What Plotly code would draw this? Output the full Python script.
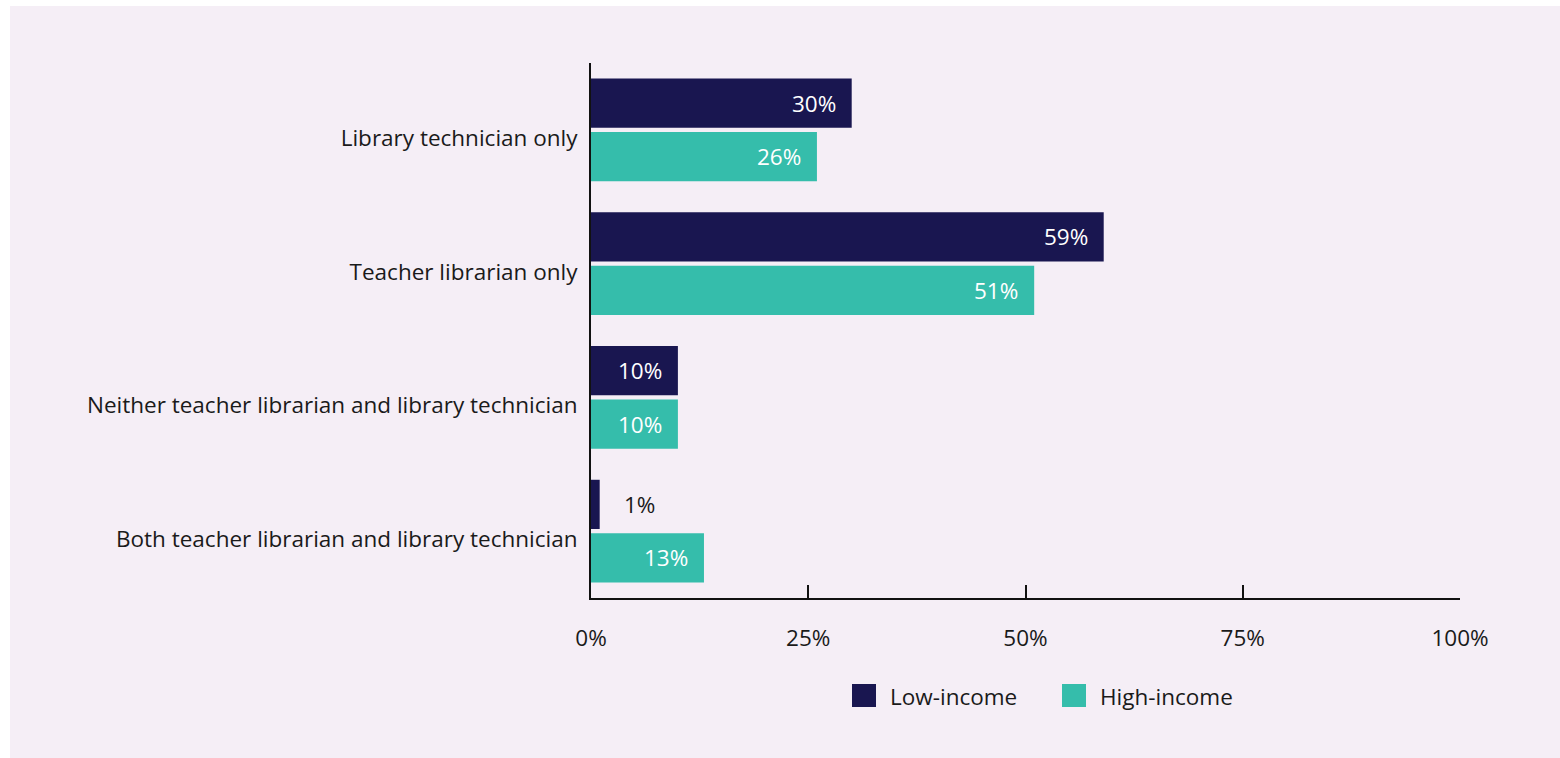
import plotly.graph_objects as go

categories = ["Library technician only", "Teacher librarian only",
              "Neither teacher librarian and library technician",
              "Both teacher librarian and library technician"]
series_names = ["Low-income", "High-income"]
low_income = [30, 59, 10, 1]
high_income = [26, 51, 10, 13]
tick_vals = [0, 25, 50, 75, 100]
tick_text = ["0%", "25%", "50%", "75%", "100%"]

colors = ["#191650", "#35BDAB"]
FONT = "Open Sans"
FS = 22.5
W, H = 1560, 758
L, R, T, B = 591, 100, 63, 160
pw, ph = W - L - R, H - T - B

fig = go.Figure()
all_vals = [low_income, high_income]
for name, vals, col in zip(series_names, all_vals, colors):
    fig.add_trace(go.Bar(y=categories, x=vals, name=name, orientation="h",
                         marker=dict(color=col, line=dict(width=0)),
                         showlegend=False, hoverinfo="x+y"))

bargap = 0.2
slot = (1 - bargap) / 2
annotations = []
for ti, vals in enumerate(all_vals):
    off = (ti - 0.5) * slot
    for ci, v in enumerate(vals):
        inside = v >= 5
        annotations.append(dict(
            x=v, y=ci + off, xref="x", yref="y", text=f"{v}%", showarrow=False,
            xanchor="right" if inside else "left",
            xshift=-14 if inside else 22,
            font=dict(family=FONT, size=FS, color="white" if inside else "#1a1a1a")))

# manual legend
shapes = []
leg_x = [852, 1062]
for name, col, px in zip(series_names, colors, leg_x):
    x0 = (px - L) / pw
    x1 = (px + 24 - L) / pw
    y0 = 1 - (707 - T) / ph
    y1 = 1 - (684 - T) / ph
    shapes.append(dict(type="rect", xref="paper", yref="paper", x0=x0, x1=x1, y0=y0, y1=y1,
                       fillcolor=col, line=dict(width=0)))
    annotations.append(dict(xref="paper", yref="paper", x=(px + 36 - L) / pw,
                            y=1 - (696 - T) / ph, text=name, showarrow=False,
                            xanchor="left", yanchor="middle",
                            font=dict(family=FONT, size=FS, color="#1a1a1a")))

# background panel
shapes.insert(0, dict(type="rect", xref="paper", yref="paper", layer="below",
                      x0=(10 - L) / pw, x1=(W + 5 - L) / pw,
                      y0=1 - (H + 5 - T) / ph, y1=1 + (T - 6) / ph,
                      fillcolor="#F5EEF6", line=dict(width=0)))

fig.update_layout(
    width=W, height=H,
    margin=dict(l=L, r=R, t=T, b=B, pad=0),
    paper_bgcolor="white", plot_bgcolor="rgba(0,0,0,0)",
    barmode="group", bargap=bargap, bargroupgap=0.08,
    font=dict(family=FONT, size=FS, color="#1a1a1a"),
    shapes=shapes, annotations=annotations,
    xaxis=dict(range=[0, 100], tickvals=tick_vals, ticktext=tick_text,
               showgrid=False, zeroline=False, showline=True, linecolor="#111111",
               linewidth=2, ticks="inside", ticklen=13, tickwidth=2, tickcolor="#111111",
               ticklabelstandoff=19, tickfont=dict(family=FONT, size=FS, color="#1a1a1a"),
               fixedrange=True),
    yaxis=dict(autorange="reversed", showgrid=False, zeroline=False, showline=True,
               linecolor="#111111", linewidth=2, ticks="", ticklabelstandoff=7,
               ticklabelshift=-8,
               tickfont=dict(family=FONT, size=FS, color="#1a1a1a"), fixedrange=True),
)

fig.write_html("out.html")
